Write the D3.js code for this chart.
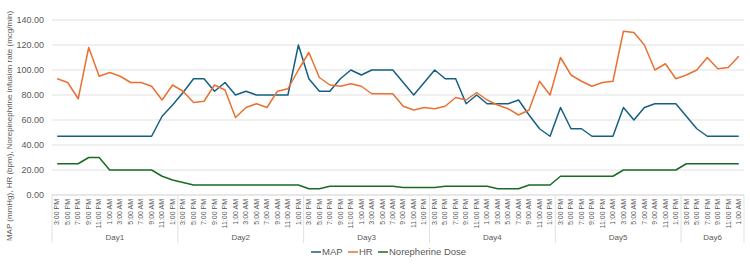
<!DOCTYPE html>
<html>
<head>
<meta charset="utf-8">
<script src="https://cdn.jsdelivr.net/npm/d3@7"></script>
<style>
  body { margin: 0; background: #fff; }
  svg { font-family: "Liberation Sans", Arial, sans-serif; }
</style>
</head>
<body>
<svg id="chart"></svg>
<script>
// time slots per day (2-hourly, 3 PM to 1 PM)
const slots = ['3:00 PM','5:00 PM','7:00 PM','9:00 PM','11:00 PM','1:00 AM','3:00 AM','5:00 AM','7:00 AM','9:00 AM','11:00 AM','1:00 PM'];
const days = ['Day1','Day2','Day3','Day4','Day5','Day6'];
const slotsPerDay = [12, 12, 12, 12, 12, 6];

const yTicks = [0, 20, 40, 60, 80, 100, 120, 140];

const mapValues = [
  47, 47, 47, 47, 47, 47, 47, 47, 47, 47, 63, 72,
  82, 93, 93, 83, 90, 80, 83, 80, 80, 80, 80, 120,
  93, 83, 83, 93, 100, 96, 100, 100, 100, 90, 80, 90,
  100, 93, 93, 73, 80, 73, 73, 73, 76, 64, 53, 47,
  70, 53, 53, 47, 47, 47, 70, 60, 70, 73, 73, 73,
  63, 53, 47, 47, 47, 47
];
const hrValues = [
  93, 90, 77, 118, 95, 98, 95, 90, 90, 87, 76, 88,
  83, 74, 75, 88, 84, 62, 70, 73, 70, 83, 85, 100,
  114, 94, 88, 87, 89, 87, 81, 81, 81, 71, 68, 70,
  69, 71, 78, 76, 82, 76, 72, 69, 64, 68, 91, 80,
  110, 96, 91, 87, 90, 91, 131, 130, 120, 100, 105, 93,
  96, 100, 110, 101, 102, 111
];
const noreValues = [
  25, 25, 25, 30, 30, 20, 20, 20, 20, 20, 15, 12,
  10, 8, 8, 8, 8, 8, 8, 8, 8, 8, 8, 8,
  5, 5, 7, 7, 7, 7, 7, 7, 7, 6, 6, 6,
  6, 7, 7, 7, 7, 7, 5, 5, 5, 8, 8, 8,
  15, 15, 15, 15, 15, 15, 20, 20, 20, 20, 20, 20,
  25, 25, 25, 25, 25, 25
];

const seriesNames = ['MAP', 'HR', 'Norepherine Dose'];
const seriesColors = ['#156082', '#E97132', '#196B24'];

// build category list
let categories = [];
days.forEach((day, di) => {
  for (let s = 0; s < slotsPerDay[di]; s++) {
    categories.push({day: day, label: slots[s], idx: categories.length});
  }
});

const width = 750, height = 270;
const plotLeft = 52, plotRight = 744, plotTop = 20, plotBottom = 195;
const textColor = '#595959';

let svg = d3.select('#chart')
  .attr('width', width)
  .attr('height', height);

let xScale = d3.scaleBand()
  .domain(categories.map(c => c.idx))
  .range([plotLeft, plotRight])
  .padding(0);

let yScale = d3.scaleLinear()
  .domain([0, 140])
  .range([plotBottom, plotTop]);

// gridlines
svg.append('g')
  .selectAll('line')
  .data(yTicks)
  .enter()
  .append('line')
    .attr('x1', plotLeft)
    .attr('x2', plotRight)
    .attr('y1', d => yScale(d))
    .attr('y2', d => yScale(d))
    .attr('stroke', '#d9d9d9')
    .attr('stroke-width', 0.8);

// y axis labels
let yAxis = d3.axisLeft(yScale)
  .tickValues(yTicks)
  .tickFormat(d3.format('.2f'))
  .tickSize(0)
  .tickPadding(8);

let yG = svg.append('g')
  .attr('transform', `translate(${plotLeft},0)`)
  .call(yAxis);
yG.select('.domain').remove();
yG.selectAll('text')
  .attr('fill', textColor)
  .style('font-size', '9px');

// x axis line
svg.append('line')
  .attr('x1', plotLeft).attr('x2', plotRight)
  .attr('y1', plotBottom).attr('y2', plotBottom)
  .attr('stroke', '#d9d9d9')
  .attr('stroke-width', 0.8);

// x tick labels (rotated)
let xAxis = d3.axisBottom(xScale)
  .tickFormat(i => categories[i].label)
  .tickSize(0)
  .tickPadding(0);

let xG = svg.append('g')
  .attr('transform', `translate(0,${plotBottom})`)
  .call(xAxis);
xG.select('.domain').remove();
xG.selectAll('text')
  .attr('fill', textColor)
  .style('font-size', '7px')
  .attr('text-anchor', 'end')
  .attr('dy', '0.32em')
  .attr('transform', 'translate(0,4) rotate(-90)')
  .attr('x', 0)
  .attr('y', 0);

// day group separators and labels
let dayStarts = [];
let acc = 0;
slotsPerDay.forEach(n => { dayStarts.push(acc); acc += n; });
let sepIdx = dayStarts.concat([acc]);
let sepX = i => i < categories.length ? xScale(i) : xScale(i - 1) + xScale.bandwidth();

svg.append('g')
  .selectAll('line')
  .data(sepIdx)
  .enter()
  .append('line')
    .attr('x1', d => sepX(d))
    .attr('x2', d => sepX(d))
    .attr('y1', plotBottom)
    .attr('y2', 243)
    .attr('stroke', '#d9d9d9')
    .attr('stroke-width', 0.8);

svg.append('g')
  .selectAll('text')
  .data(days)
  .enter()
  .append('text')
    .text(d => d)
    .attr('x', (d, i) => xScale(dayStarts[i]) + slotsPerDay[i] * xScale.bandwidth() / 2)
    .attr('y', 240)
    .attr('text-anchor', 'middle')
    .attr('fill', textColor)
    .style('font-size', '8px');

// y axis title
svg.append('text')
  .text('MAP (mmHg), HR (bpm), Norepinephrine infusion rate (mcg/min)')
  .attr('transform', 'translate(12,126) rotate(-90)')
  .attr('text-anchor', 'middle')
  .attr('fill', textColor)
  .style('font-size', '8px');

// lines
const allSeries = [mapValues, hrValues, noreValues];
let line = d3.line()
  .x((d, i) => xScale(i) + xScale.bandwidth() / 2)
  .y(d => yScale(d));

svg.append('g')
  .selectAll('path')
  .data(allSeries)
  .enter()
  .append('path')
    .attr('d', d => line(d))
    .attr('fill', 'none')
    .attr('stroke', (d, i) => seriesColors[i])
    .attr('stroke-width', 1.5)
    .attr('stroke-linejoin', 'round');

// legend
let legendX = [311, 348, 378];
let legend = svg.append('g')
  .selectAll('g')
  .data(seriesNames)
  .enter()
  .append('g')
    .attr('transform', (d, i) => `translate(${legendX[i]},252)`);

legend.append('line')
  .attr('x1', 0).attr('x2', 10)
  .attr('stroke', (d, i) => seriesColors[i])
  .attr('stroke-width', 1.5);

legend.append('text')
  .text(d => d)
  .attr('x', 11)
  .attr('dy', '0.35em')
  .attr('fill', textColor)
  .style('font-size', '9.5px');
</script>
</body>
</html>
